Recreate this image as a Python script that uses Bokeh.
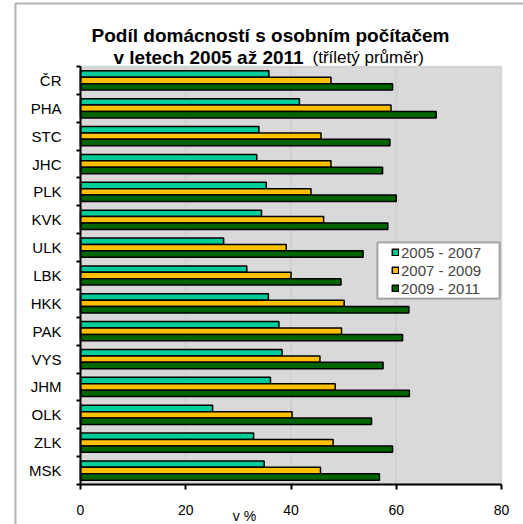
import numpy as np
from bokeh.plotting import figure
from bokeh.models import (Range1d, FixedTicker, ColumnDataSource, Label, Legend,
                          LegendItem, BoxAnnotation)
from bokeh.embed import file_html
from bokeh.resources import INLINE

regions = ["ČR", "PHA", "STC", "JHC", "PLK", "KVK", "ULK", "LBK", "HKK",
           "PAK", "VYS", "JHM", "OLK", "ZLK", "MSK"]
s2005_2007 = [35.8, 41.6, 33.9, 33.5, 35.3, 34.4, 27.2, 31.6, 35.7, 37.7, 38.3, 36.1, 25.1, 32.9, 34.9]
s2007_2009 = [47.6, 59.0, 45.7, 47.6, 43.8, 46.2, 39.1, 40.0, 50.1, 49.6, 45.5, 48.4, 40.2, 48.0, 45.6]
s2009_2011 = [59.3, 67.6, 58.8, 57.4, 60.0, 58.4, 53.7, 49.5, 62.4, 61.2, 57.5, 62.5, 55.3, 59.3, 56.8]
series_labels = ["2005 - 2007", "2007 - 2009", "2009 - 2011"]
series_colors = ["#00CC99", "#FFC000", "#006400"]
x_ticks = [0, 20, 40, 60, 80]
title_1 = "Podíl domácností s osobním počítačem"
title_2a = "v letech 2005 až 2011"
title_2b = "(tříletý průměr)"
x_label = "v %"

FONT = "Liberation Sans"
W, H = 523, 524
# plot-area placement on the canvas (pixels)
PL, PR, PT, PB = 80, 501, 66, 484
n = len(regions)
x_min, x_max = x_ticks[0], x_ticks[-1]
xs = (PR - PL) / (x_max - x_min)
ys = (PB - PT) / n
x_range = Range1d(x_min - PL / xs, x_max + (W - PR) / xs)
y_range = Range1d(n + (H - PB) / ys, -PT / ys)   # flipped: first region on top

centers = np.arange(n) + 0.5

p = figure(width=W, height=H, output_backend="svg", toolbar_location=None,
           x_range=x_range, y_range=y_range,
           min_border=0, min_border_left=0, min_border_right=0,
           min_border_top=0, min_border_bottom=0)
p.background_fill_color = "white"
p.border_fill_color = "white"
p.outline_line_color = None
p.xgrid.visible = False
p.ygrid.visible = False

# plot area background
p.add_layout(BoxAnnotation(left=x_min, right=x_max, top=0, bottom=n,
                           fill_color="#D9D9D9", fill_alpha=1,
                           line_color="#ADADAD", line_width=2, level="underlay"))
# grid lines (limited to plot area)
for t in x_ticks[1:-1]:
    p.add_layout(BoxAnnotation(left=t, right=t, top=0, bottom=n, fill_alpha=0,
                               line_color="#BDBDBD", line_width=2, level="underlay"))

bar_h = 0.23
offsets = [-bar_h, 0.0, bar_h]
renderers = []
for vals, off, col in zip([s2005_2007, s2007_2009, s2009_2011], offsets, series_colors):
    src = ColumnDataSource(dict(y=centers + off, right=vals))
    r = p.hbar(y="y", right="right", left=0, height=bar_h, source=src,
               fill_color=col, line_color="black", line_width=1.5)
    renderers.append(r)

# axes
xa = p.xaxis[0]
ya = p.yaxis[0]
xa.fixed_location = n
xa.bounds = (x_min, x_max)
ya.fixed_location = x_min
ya.bounds = (0, n)
for ax in (xa, ya):
    ax.axis_line_color = "black"
    ax.axis_line_width = 2
    ax.major_label_text_font = FONT
    ax.major_label_text_color = "black"

xa.ticker = FixedTicker(ticks=x_ticks)
xa.major_tick_line_color = "black"
xa.major_tick_line_width = 2
xa.major_tick_in = 0
xa.major_tick_out = 5
xa.minor_tick_line_color = None
xa.major_label_text_font_size = "14px"
xa.major_label_standoff = 15

ya.ticker = FixedTicker(ticks=list(centers), minor_ticks=list(np.arange(n + 1)))
ya.major_label_overrides = {float(c): r for c, r in zip(centers, regions)}
ya.major_tick_line_color = None
ya.minor_tick_line_color = "black"
ya.minor_tick_line_width = 2
ya.minor_tick_in = 0
ya.minor_tick_out = 4
ya.major_label_text_font_size = "15px"
ya.major_label_standoff = 13

# legend (screen units measured from canvas bottom-left)
legend_box = BoxAnnotation(left=377, right=499, bottom=H - 298, top=H - 242,
                           left_units="screen", right_units="screen",
                           bottom_units="screen", top_units="screen",
                           fill_color="white", fill_alpha=1,
                           line_color="black", line_width=2)
p.add_layout(legend_box)
legend = Legend(items=[LegendItem(label=l, renderers=[r]) for l, r in zip(series_labels, renderers)],
                location=(391, H - 297), orientation="vertical",
                label_text_font=FONT, label_text_font_size="15px",
                glyph_width=8, glyph_height=8, label_height=18, label_standoff=2,
                padding=0, margin=0, spacing=0,
                border_line_color=None, background_fill_alpha=0)
p.add_layout(legend, "center")

# outer chart frame (right and bottom edges lie beyond the picture)
p.add_layout(BoxAnnotation(left=15, right=W + 100, bottom=-100, top=H - 3,
                           left_units="screen", right_units="screen",
                           bottom_units="screen", top_units="screen",
                           fill_alpha=0, line_color="black", line_width=2))

# titles
p.add_layout(Label(x=270, y=H - 35, x_units="screen", y_units="screen",
                   text=title_1, text_align="center",
                   text_baseline="alphabetic", text_font=FONT, text_font_size="19px",
                   text_font_style="bold", text_color="black"))
p.add_layout(Label(x=113, y=H - 57, x_units="screen", y_units="screen",
                   text=title_2a, text_align="left",
                   text_baseline="alphabetic", text_font=FONT, text_font_size="19px",
                   text_font_style="bold", text_color="black"))
p.add_layout(Label(x=312, y=H - 57, x_units="screen", y_units="screen",
                   text=title_2b, text_align="left",
                   text_baseline="alphabetic", text_font=FONT, text_font_size="17px",
                   text_color="black"))
p.add_layout(Label(x=244, y=1, x_units="screen", y_units="screen",
                   text=x_label, text_align="center", text_baseline="bottom",
                   text_font=FONT, text_font_size="14px", text_color="black"))

open("out.html", "w").write(file_html(p, INLINE))
